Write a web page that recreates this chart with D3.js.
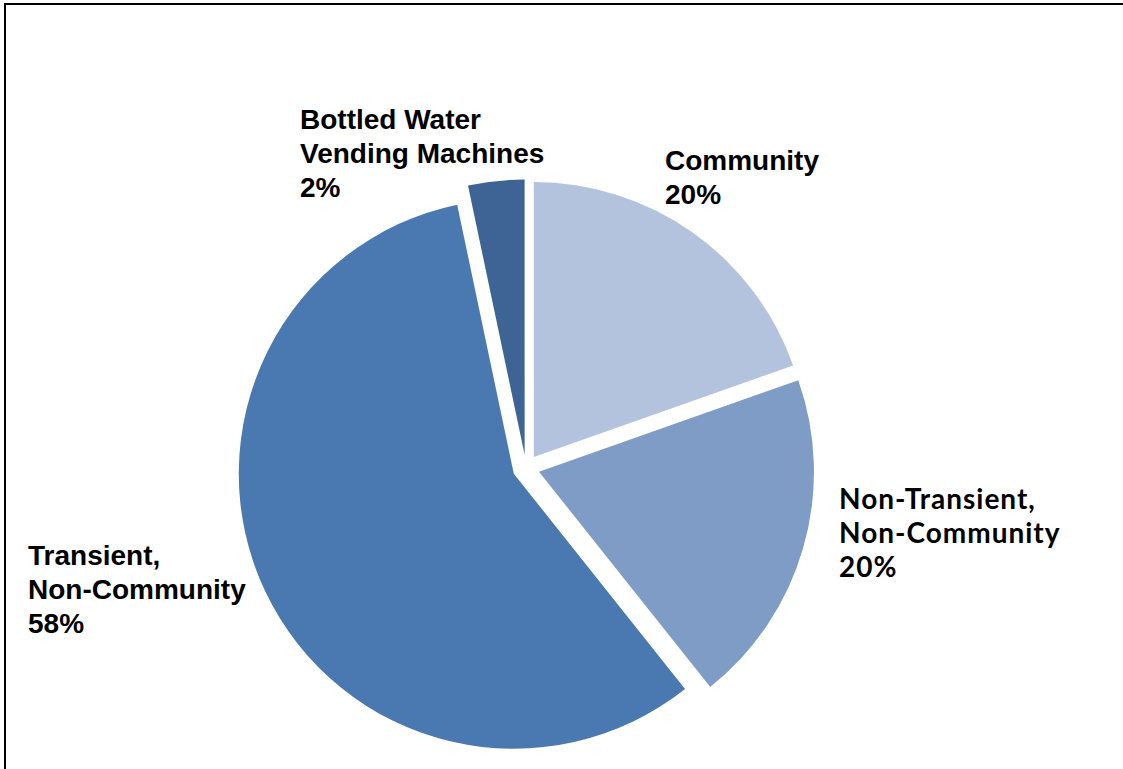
<!DOCTYPE html>
<html lang="en">
<head>
    <meta charset="UTF-8">
    <title>Public Water Systems</title>
    <script src="https://d3js.org/d3.v7.min.js"></script>
    <style>
        html, body { margin: 0; background: #fff; overflow: hidden; }
        svg { display: block; }
    </style>
</head>
<body>
    <svg width="1123" height="769"></svg>

    <script>
        // Slice data, clockwise from 12 o'clock
        const categories = ["Community", "Non-Transient, Non-Community", "Transient, Non-Community", "Bottled Water Vending Machines"];
        const shares = [19.6, 19.7, 57.4, 3.3];
        const pctLabels = ["20%", "20%", "58%", "2%"];
        const labelLines = [
            ["Community"],
            ["Non-Transient,", "Non-Community"],
            ["Transient,", "Non-Community"],
            ["Bottled Water", "Vending Machines"]
        ];
        const colors = ["#b4c3dd", "#7f9cc7", "#4a78b0", "#3d6495"];

        const svg = d3.select("svg");

        // Frame: only the top and left edges are visible
        svg.append("path")
           .attr("d", d3.line()([[5, 769], [5, 4], [1123, 4]]))
           .attr("fill", "none")
           .attr("stroke", "#000")
           .attr("stroke-width", 2);

        const cx = 526, cy = 468, radius = 275, explode = 13.5;

        const pie = d3.pie().sort(null).value(d => d);
        const arcs = pie(shares);
        const arc = d3.arc().innerRadius(0).outerRadius(radius);

        const g = svg.append("g").attr("transform", `translate(${cx},${cy})`);

        g.selectAll("path")
         .data(arcs)
         .enter()
         .append("path")
         .attr("d", arc)
         .attr("fill", (d, i) => colors[i])
         .attr("transform", d => {
             const mid = (d.startAngle + d.endAngle) / 2;
             return `translate(${explode * Math.sin(mid)},${-explode * Math.cos(mid)})`;
         });

        // Data labels: left x and first baseline
        const arial = "'Liberation Sans', Arial, sans-serif";
        const labelPos = [
            { x: 665, y: 170, font: arial, size: 28, spacing: 0 },
            { x: 839, y: 509, font: "Lato, 'Open Sans', sans-serif", size: 28, spacing: 1 },
            { x: 28, y: 565, font: arial, size: 28, spacing: 0 },
            { x: 300, y: 129, font: arial, size: 28, spacing: 0 }
        ];
        const lineGap = 34;

        categories.forEach((c, i) => {
            const p = labelPos[i];
            const t = svg.append("text")
                .attr("x", p.x)
                .attr("y", p.y)
                .style("font-family", p.font)
                .style("font-size", p.size + "px")
                .style("font-weight", "bold")
                .style("letter-spacing", p.spacing + "px")
                .attr("fill", "#000");
            labelLines[i].concat([pctLabels[i]]).forEach((line, j) => {
                t.append("tspan")
                 .attr("x", p.x)
                 .attr("dy", j === 0 ? 0 : lineGap)
                 .text(line);
            });
        });
    </script>
</body>
</html>
